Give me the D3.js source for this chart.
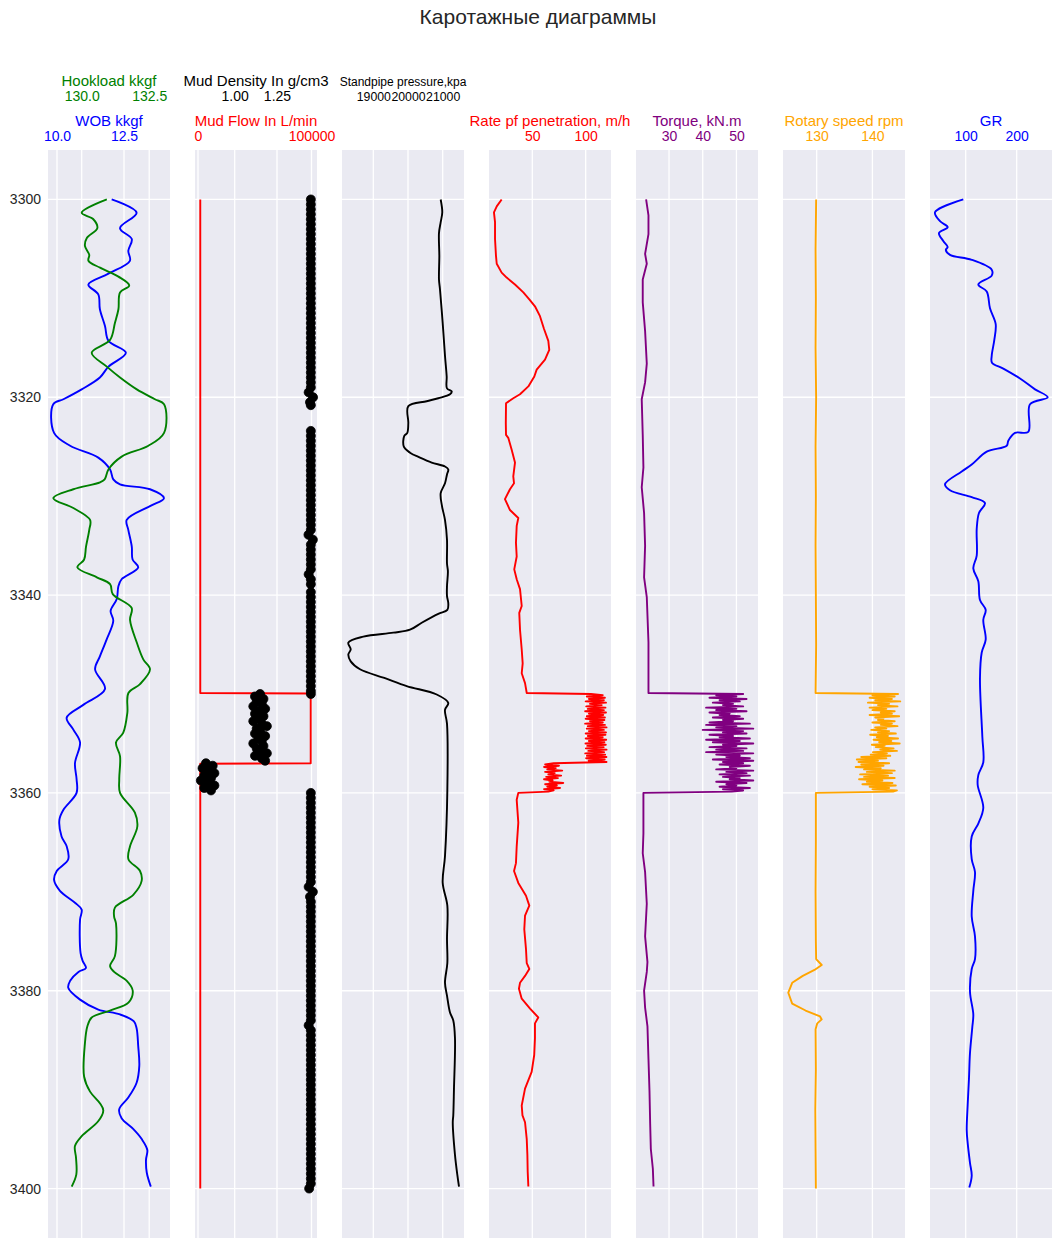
<!DOCTYPE html>
<html><head><meta charset="utf-8">
<script src="https://cdn.jsdelivr.net/npm/d3@7"></script>
<style>
body{margin:0;background:#fff}
svg{display:block}
text{font-family:"Liberation Sans",Arial,Helvetica,sans-serif}
</style>
</head><body>
<svg id="chart" width="1059" height="1245"></svg>
<script>
// ---------------- DATA ----------------
const depthTicks = [3300, 3320, 3340, 3360, 3380, 3400];
const wobTicks = [10.0, 12.5];
const hookloadTicks = [130.0, 132.5];
const mudFlowTicks = [0, 100000];
const mudDensityTicks = [1.00, 1.25];
const standpipeTicks = [19000, 20000, 21000];
const ropTicks = [50, 100];
const torqueTicks = [30, 40, 50];
const rotaryTicks = [130, 140];
const grTicks = [100, 200];

// [depth, value]
const wob = [[3300,12.04],[3301.35,12.97],[3302.9,12.35],[3304.0,12.79],[3305.2,12.66],[3306.2,12.72],[3307.5,11.92],[3308.6,11.17],[3309.6,11.54],[3311.1,11.6],[3312.8,11.79],[3314.3,11.92],[3315.5,12.57],[3316.9,11.92],[3318.0,11.6],[3319.2,10.92],[3320.2,10.24],[3320.7,9.86],[3323.6,9.89],[3324.9,10.49],[3326.1,11.54],[3327.3,11.98],[3328.3,12.1],[3328.8,12.35],[3329.3,13.47],[3330.2,13.99],[3331.0,13.47],[3332.4,12.6],[3333.4,12.66],[3335.1,12.79],[3336.4,12.82],[3337.2,13.03],[3338.4,12.41],[3339.1,12.29],[3340.4,12.23],[3341.6,12.0],[3342.6,12.1],[3344.5,11.85],[3346.2,11.6],[3347.5,11.42],[3349.5,11.79],[3351.1,10.98],[3352.4,10.36],[3353.6,10.61],[3354.9,10.86],[3357.0,10.67],[3358.6,10.73],[3360.0,10.73],[3361.7,10.24],[3362.7,10.09],[3364.4,10.17],[3365.4,10.36],[3366.7,10.42],[3367.9,9.99],[3368.8,9.89],[3369.9,10.11],[3371.1,10.67],[3371.8,10.92],[3372.8,10.86],[3376.2,10.88],[3377.0,10.96],[3377.7,11.08],[3378.1,10.8],[3379.0,10.49],[3379.7,10.42],[3380.9,10.86],[3381.9,11.54],[3382.4,12.35],[3383.1,12.87],[3383.8,12.97],[3385.6,13.03],[3387.6,13.07],[3389.3,12.97],[3390.8,12.66],[3392.0,12.32],[3392.9,12.41],[3394.0,12.85],[3395.0,13.16],[3396.1,13.37],[3397.1,13.32],[3398.4,13.35],[3399.8,13.5]];

const hookload = [[3300,130.93],[3301.35,130.0],[3302,130.43],[3302.9,130.58],[3303.9,130.19],[3304.7,130.12],[3305.6,130.28],[3306.2,130.25],[3306.9,130.68],[3307.8,131.36],[3308.7,131.76],[3309.4,131.42],[3311.1,131.36],[3312.5,131.23],[3314.2,131.05],[3315.5,130.37],[3316.9,130.93],[3318.0,131.42],[3319.2,132.04],[3320.2,132.71],[3320.7,133.05],[3323.6,133.05],[3324.9,132.47],[3326.0,131.48],[3327.3,130.99],[3328.3,130.85],[3328.6,130.68],[3329.3,129.69],[3330.2,128.95],[3331.2,129.69],[3332.4,130.31],[3333.4,130.28],[3335.1,130.16],[3336.4,130.09],[3337.2,129.84],[3338.2,130.56],[3338.9,131.05],[3339.9,131.15],[3341.3,131.85],[3342.5,131.79],[3344.8,132.04],[3346.5,132.28],[3347.5,132.53],[3349.0,132.16],[3349.9,131.73],[3351.9,131.69],[3353.9,131.54],[3354.9,131.27],[3356.3,131.42],[3358.6,131.39],[3360.0,131.42],[3362.0,131.97],[3363.4,132.06],[3365.4,131.79],[3366.7,131.73],[3367.9,132.16],[3368.9,132.22],[3370.3,131.91],[3371.6,131.23],[3372.5,131.2],[3373.2,131.27],[3376.5,131.23],[3377.5,131.05],[3378.1,131.2],[3379.0,131.67],[3380.0,131.89],[3381.2,131.73],[3382.0,131.05],[3382.7,130.37],[3383.6,130.21],[3385.3,130.12],[3388.7,130.09],[3390.2,130.31],[3391.4,130.68],[3392.1,130.8],[3393.2,130.61],[3394.7,130.0],[3395.7,129.75],[3396.9,129.79],[3398.6,129.8],[3399.8,129.63]];

const mudFlow = [[3300,2000],[3349.9,2000],[3349.95,99300],[3357.0,99300],[3357.05,2000],[3400,2000]];

const mudDensity = [
[3300,1.45],[3300.5,1.45],[3301,1.45],[3301.5,1.45],[3302,1.45],[3302.5,1.45],[3303,1.45],[3303.5,1.45],[3304,1.45],[3304.5,1.45],[3305,1.45],[3305.5,1.45],[3306,1.45],[3306.5,1.45],[3307,1.45],[3307.5,1.45],[3308,1.45],[3308.5,1.45],[3309,1.45],[3309.5,1.45],[3310,1.45],[3310.5,1.45],[3311,1.45],[3311.5,1.45],[3312,1.45],[3312.5,1.45],[3313,1.45],[3313.5,1.45],[3314,1.45],[3314.5,1.45],[3315,1.45],[3315.5,1.45],[3316,1.45],[3316.5,1.45],[3317,1.45],[3317.5,1.45],[3318,1.45],[3318.5,1.45],[3319,1.45],[3319.5,1.437],[3320,1.463],[3320.5,1.445],[3320.8,1.45],
[3323.4,1.45],[3323.9,1.45],[3324.4,1.45],[3324.9,1.45],[3325.4,1.45],[3325.9,1.45],[3326.4,1.45],[3326.9,1.45],[3327.4,1.45],[3327.9,1.45],[3328.4,1.45],[3328.9,1.45],[3329.4,1.45],[3329.9,1.45],[3330.4,1.45],[3330.9,1.45],[3331.4,1.45],[3331.9,1.45],[3332.4,1.45],[3332.9,1.45],[3333.4,1.45],[3333.9,1.436],[3334.4,1.462],[3334.9,1.45],[3335.4,1.45],[3335.9,1.45],[3336.4,1.45],[3336.9,1.45],[3337.4,1.45],[3337.9,1.437],[3338.4,1.45],[3338.9,1.45],
[3339.7,1.45],[3340.2,1.45],[3340.7,1.45],[3341.2,1.45],[3341.7,1.45],[3342.2,1.45],[3342.7,1.45],[3343.2,1.45],[3343.7,1.45],[3344.2,1.45],[3344.7,1.45],[3345.2,1.45],[3345.7,1.45],[3346.2,1.45],[3346.7,1.45],[3347.2,1.45],[3347.7,1.45],[3348.2,1.45],[3348.7,1.45],[3349.2,1.45],[3349.7,1.45],[3350.0,1.45],
[3350.0,1.15],[3350.25,1.12],[3350.5,1.17],[3350.75,1.13],[3351.0,1.16],[3351.25,1.11],[3351.5,1.18],[3351.75,1.14],[3352.0,1.12],[3352.25,1.17],[3352.5,1.15],[3352.75,1.11],[3353.0,1.16],[3353.25,1.19],[3353.5,1.13],[3353.75,1.15],[3354.0,1.12],[3354.25,1.18],[3354.5,1.14],[3354.75,1.16],[3355.0,1.11],[3355.25,1.17],[3355.5,1.13],[3355.75,1.15],[3356.0,1.19],[3356.25,1.12],[3356.5,1.16],[3356.75,1.18],
[3357.0,0.83],[3357.25,0.87],[3357.5,0.81],[3357.75,0.85],[3358.0,0.88],[3358.25,0.82],[3358.5,0.86],[3358.75,0.80],[3359.0,0.84],[3359.25,0.88],[3359.5,0.82],[3359.75,0.86],
[3360,1.45],[3360.5,1.45],[3361,1.45],[3361.5,1.45],[3362,1.45],[3362.5,1.45],[3363,1.45],[3363.5,1.45],[3364,1.45],[3364.5,1.45],[3365,1.45],[3365.5,1.45],[3366,1.45],[3366.5,1.45],[3367,1.45],[3367.5,1.45],[3368,1.45],[3368.5,1.45],[3369,1.45],[3369.5,1.437],[3370,1.462],[3370.5,1.445],[3371,1.45],[3371.5,1.45],[3372,1.45],[3372.5,1.45],[3373,1.45],[3373.5,1.45],[3374,1.45],[3374.5,1.45],[3375,1.45],[3375.5,1.45],[3376,1.45],[3376.5,1.45],[3377,1.45],[3377.5,1.45],[3378,1.45],[3378.5,1.45],[3379,1.45],[3379.5,1.45],[3380,1.45],[3380.5,1.45],[3381,1.45],[3381.5,1.45],[3382,1.45],[3382.5,1.45],[3383,1.45],[3383.5,1.437],[3384,1.45],[3384.5,1.45],[3385,1.45],[3385.5,1.45],[3386,1.45],[3386.5,1.45],[3387,1.45],[3387.5,1.45],[3388,1.45],[3388.5,1.45],[3389,1.45],[3389.5,1.45],[3390,1.45],[3390.5,1.45],[3391,1.45],[3391.5,1.45],[3392,1.45],[3392.5,1.45],[3393,1.45],[3393.5,1.45],[3394,1.45],[3394.5,1.45],[3395,1.45],[3395.5,1.45],[3396,1.45],[3396.5,1.45],[3397,1.45],[3397.5,1.45],[3398,1.45],[3398.5,1.45],[3399,1.45],[3399.5,1.45],[3400,1.44]];

const standpipe = [[3300,20942],[3301.3,20988],[3302.3,20942],[3303.4,20893],[3305.7,20903],[3308.1,20893],[3309.1,20922],[3312.5,21000],[3315.8,21066],[3317.9,21115],[3319.1,21124],[3319.4,21259],[3319.7,21210],[3320.1,20873],[3320.4,20539],[3320.9,20009],[3322.6,20009],[3323.6,19980],[3323.9,19893],[3325.0,19880],[3325.6,20058],[3326.1,20346],[3326.6,20683],[3327.0,21066],[3327.3,21161],[3327.8,21124],[3328.7,21066],[3329.7,20942],[3331.0,20980],[3332.4,21066],[3334.4,21124],[3336.8,21124],[3337.6,21150],[3339.1,21124],[3340.1,21124],[3340.8,21161],[3341.5,21134],[3341.9,20873],[3342.8,20395],[3343.5,20058],[3343.8,19576],[3344.2,18712],[3344.8,18280],[3345.5,18349],[3346.0,18280],[3346.7,18349],[3347.5,18617],[3348.4,19337],[3349.2,19962],[3350.05,20827],[3350.9,21161],[3351.6,21066],[3353.0,21124],[3359.7,21134],[3366.4,21066],[3369.1,21000],[3371.4,21134],[3374.8,21124],[3377.2,21134],[3379.2,21066],[3380.5,21124],[3382.2,21210],[3383.0,21305],[3384.8,21354],[3389.9,21325],[3392.6,21305],[3393.3,21290],[3396.6,21354],[3398.6,21421],[3399.8,21470]];

// depths of the drilling interval (fine sampling)
const drillDepth = [3350,3350.125,3350.25,3350.375,3350.5,3350.625,3350.75,3350.875,3351,3351.125,3351.25,3351.375,3351.5,3351.625,3351.75,3351.875,3352,3352.125,3352.25,3352.375,3352.5,3352.625,3352.75,3352.875,3353,3353.125,3353.25,3353.375,3353.5,3353.625,3353.75,3353.875,3354,3354.125,3354.25,3354.375,3354.5,3354.625,3354.75,3354.875,3355,3355.125,3355.25,3355.375,3355.5,3355.625,3355.75,3355.875,3356,3356.125,3356.25,3356.375,3356.5,3356.625,3356.75,3356.875,3357,3357.125,3357.25,3357.375,3357.5,3357.625,3357.75,3357.875,3358,3358.125,3358.25,3358.375,3358.5,3358.625,3358.75,3358.875,3359,3359.125,3359.25,3359.375,3359.5,3359.625,3359.75,3359.875];

const ropBefore = [[3300,21.3],[3300.7,16.7],[3301.3,14.1],[3302.3,15.1],[3304.0,15.1],[3305.7,16.0],[3306.5,16.7],[3307.4,21.3],[3307.9,26.0],[3308.6,33.8],[3309.4,41.6],[3310.1,47.2],[3310.8,52.5],[3311.8,57.2],[3313.1,61.0],[3314.3,65.0],[3315.2,65.9],[3316.2,61.9],[3317.2,54.1],[3317.9,51.9],[3318.9,46.3],[3319.7,38.5],[3320.1,32.2],[3320.6,25.4],[3322.6,25.2],[3323.8,25.4],[3324.1,27.5],[3325.3,30.7],[3326.6,33.8],[3328.0,32.2],[3328.7,32.9],[3329.3,29.1],[3330.3,24.4],[3331.4,29.1],[3332.2,36.9],[3333.0,35.4],[3334.7,34.7],[3336.1,35.4],[3337.4,33.1],[3338.4,35.4],[3339.4,38.5],[3341.1,40.1],[3341.8,37.8],[3343.5,38.5],[3345.5,40.1],[3346.9,41.0],[3347.9,40.1],[3348.9,43.2],[3349.9,44.8]];
const ropDrill = [105,116,101,118,103,117,100,119,104,115,100.5,118.5,102,117,99.5,119,103,116.5,101,118,100,117.5,104,116,99.5,118,102,119.5,101,117,103,119,100,118.5,102,116,100,119.2,103,117.5,99.8,118.8,101.5,116.8,100.2,119.5,102.5,117.2,99.6,118.2,101.2,119.4,100.4,117.8,102.8,119.5,
  70,62,75,61,72,64,78,62,71,65,77,63,74,61,69,66,79,62,73,64,76,61,70,65];
const ropAfter = [[3360.0,36.9],[3360.7,35.4],[3363.0,36.9],[3365.4,35.4],[3367.1,34.7],[3367.9,32.9],[3369.1,36.9],[3370.4,44.1],[3371.4,47.2],[3372.4,43.2],[3373.8,42.5],[3375.8,44.1],[3377.2,44.8],[3377.8,47.2],[3378.5,43.2],[3379.2,38.5],[3379.8,37.5],[3380.8,40.1],[3381.8,47.9],[3382.7,55.6],[3383.3,52.5],[3384.8,52.5],[3386.5,51.8],[3388.2,49.4],[3389.9,43.2],[3391.6,40.1],[3392.6,40.8],[3393.3,43.2],[3395.0,44.8],[3396.6,45.4],[3398.3,45.7],[3399.8,46.3]];

const torqueBefore = [[3300,23.2],[3301.6,23.9],[3303.5,23.9],[3305.5,22.9],[3306.5,23.4],[3308.1,22.2],[3310.4,22.2],[3313.3,22.9],[3316.6,23.4],[3318.5,22.9],[3320.2,21.9],[3323.8,22.2],[3327.1,22.4],[3329.1,21.9],[3331.7,22.6],[3335.0,22.9],[3338.2,22.6],[3340.2,23.4],[3344.8,23.9],[3349.9,23.9]];
const torqueDrill = [52,44,50,42,53,45,51,43,49,46,52,41,50,44,53,42,48,45,51,43,52,46,49,42,
  54,41,50,44,55,40,52,46,53,42,49,45,54,41,51,43,55,46,50,42,53,44,52,41,
  55,44,51,47,54,43,55,46,52,45,54,48,50,44,55,47,53,45,54,46,51,48,55,44,53,47,50,45,54,46,52,48.6];
const torqueAfter = [[3360.0,22.4],[3364.1,22.4],[3366.1,22.2],[3368.0,22.9],[3371.2,23.4],[3374.5,22.9],[3377.1,23.6],[3378.1,23.4],[3380.0,22.6],[3381.7,22.9],[3383.6,23.6],[3386.9,23.9],[3390.1,24.2],[3393.4,24.4],[3396.0,24.6],[3398.0,25.2],[3399.8,25.4]];

const rotaryBefore = [[3300,129.9],[3305,129.8],[3310,129.85],[3315,129.8],[3320,129.9],[3325,129.8],[3330,129.85],[3335,129.8],[3340,129.85],[3345,129.9],[3349.9,129.8]];
const rotaryDrill = [144.6,140,144,139.5,143.5,140.5,145,139.2,143,141,144.5,139.5,142.5,140,144,141.5,143.5,139.5,144.8,140.5,142,141,144,140,143.5,141.5,144.5,140.5,142.5,139.8,143,141,144.2,139.6,142.8,140.8,144.6,140.2,143.4,141.2,144.9,139.9,142.2,140.6,143.8,141.4,144.4,140.1,142.6,139.7,143.2,
  138,142.5,137.2,141,137.5,143,138,142,137,141.5,138.5,144,139,143.5,137.8,142.8,138.5,144,137.6,141.8,139,143.6,138.2,144.2,139.5,143,140,144.4,143.7];
const rotaryAfter = [[3360.0,129.85],[3365,129.85],[3370,129.8],[3375,129.85],[3376.8,129.9],[3377.4,130.9],[3377.9,129.6],[3378.5,127.5],[3379.2,125.6],[3380.2,124.9],[3381.3,125.6],[3382.0,128.0],[3382.6,130.6],[3382.9,130.9],[3383.3,130.1],[3383.9,129.8],[3388,129.85],[3392,129.75],[3396,129.8],[3400,129.85]];

const gr = [[3300,95.3],[3301.3,39.8],[3302.2,49.6],[3302.8,64.7],[3303.4,47.6],[3304.2,56],[3304.8,64.7],[3305.1,61],[3305.6,69.2],[3306.1,111.8],[3307.1,151],[3307.7,151],[3308.6,124.7],[3309.3,141.2],[3311.0,147.6],[3312.6,158.8],[3314.2,156.1],[3315.8,151],[3316.5,151.5],[3317.1,173.7],[3318.1,206.5],[3319.2,235.9],[3320.0,260.8],[3320.7,226.1],[3323.5,222.7],[3323.6,196.7],[3324.4,183.5],[3324.9,180.4],[3325.5,141.2],[3326.8,111.8],[3327.5,92.2],[3328.8,59.4],[3329.4,69.2],[3330.1,111.8],[3330.7,137.8],[3331.7,126],[3333.3,121.6],[3336.0,121.6],[3337.3,114.9],[3338.6,124.7],[3340.5,128],[3341.5,139.2],[3342.5,134.5],[3344.5,139.2],[3345.8,131.4],[3348.4,128],[3354.3,132.6],[3356.9,134.5],[3358.2,124.7],[3359.2,123.5],[3361.5,134.5],[3363.1,124.7],[3364.4,111.8],[3366.7,111.8],[3368.0,118.2],[3369.9,114.9],[3372.5,111.8],[3374.5,118.2],[3376.8,118.2],[3377.8,111.8],[3380.1,108.4],[3382.4,114.9],[3383.7,112.9],[3386.3,108.4],[3388.9,106.4],[3391.5,103.9],[3394.1,102],[3395.4,103.9],[3397.4,108.4],[3398.7,111.8],[3399.9,107]];

// ---------------- LAYOUT ----------------
const svg = d3.select('#chart');
const panelLefts = [48, 195, 342, 489, 636, 783, 930];
const panelW = 122, plotTop = 150, plotBottom = 1238;
const y = d3.scaleLinear().domain([3295, 3405]).range([plotTop, plotBottom]);

const joinDrill = (before, vals, after) => before.concat(drillDepth.map((d,i)=>[d, vals[i]]), after);
const rop = joinDrill(ropBefore, ropDrill, ropAfter);
const torque = joinDrill(torqueBefore, torqueDrill, torqueAfter);
const rotary = joinDrill(rotaryBefore, rotaryDrill, rotaryAfter);

const xr = i => [panelLefts[i], panelLefts[i] + panelW];
const xWob = d3.scaleLinear().domain([9.664, 14.216]).range(xr(0));
const xHook = d3.scaleLinear().domain([128.752, 133.27]).range(xr(0));
const xFlow = d3.scaleLinear().domain([-2643, 104846]).range(xr(1));
const xDens = d3.scaleLinear().domain([0.7654, 1.4864]).range(xr(1));
const xSpp = d3.scaleLinear().domain([18098, 21614]).range(xr(2));
const xRop = d3.scaleLinear().domain([9.46, 123.7]).range(xr(3));
const xTq = d3.scaleLinear().domain([20.2, 56.4]).range(xr(4));
const xRot = d3.scaleLinear().domain([123.95, 145.85]).range(xr(5));
const xGr = d3.scaleLinear().domain([30, 269.2]).range(xr(6));

const LOW = {label: 126, ticks: 141}, HIGH = {label: 86, ticks: 101};

const tracks = [
  {axes: [{s: xWob, t: wobTicks, f: '.1f', name: 'WOB kkgf', c: 'blue', row: LOW},
          {s: xHook, t: hookloadTicks, f: '.1f', name: 'Hookload kkgf', c: 'green', row: HIGH}]},
  {axes: [{s: xFlow, t: mudFlowTicks, f: 'd', name: 'Mud Flow In L/min', c: 'red', row: LOW},
          {s: xDens, t: mudDensityTicks, f: '.2f', name: 'Mud Density In g/cm3', c: 'black', row: HIGH}]},
  {axes: [{s: xSpp, t: standpipeTicks, f: 'd', name: 'Standpipe pressure,kpa', c: 'black', row: HIGH, small: true}]},
  {axes: [{s: xRop, t: ropTicks, f: 'd', name: 'Rate pf penetration, m/h', c: 'red', row: LOW}]},
  {axes: [{s: xTq, t: torqueTicks, f: 'd', name: 'Torque, kN.m', c: 'purple', row: LOW}]},
  {axes: [{s: xRot, t: rotaryTicks, f: 'd', name: 'Rotary speed rpm', c: 'orange', row: LOW}]},
  {axes: [{s: xGr, t: grTicks, f: 'd', name: 'GR', c: 'blue', row: LOW}]}
];

// title
svg.append('text').attr('x', 538).attr('y', 24).attr('text-anchor', 'middle')
  .attr('fill', '#262626').style('font-size', '21px').text('Каротажные диаграммы');

tracks.forEach((tr, i) => {
  const L = panelLefts[i];
  const g = svg.append('g');
  g.append('rect').attr('x', L).attr('y', plotTop).attr('width', panelW).attr('height', plotBottom - plotTop).attr('fill', '#EAEAF2');
  g.append('g').selectAll('line').data(depthTicks).join('line')
    .attr('x1', L).attr('x2', L + panelW).attr('y1', d => y(d)).attr('y2', d => y(d))
    .attr('stroke', '#fff').attr('stroke-width', 1.3);
  tr.axes.forEach(a => {
    g.append('g').selectAll('line').data(a.t).join('line')
      .attr('x1', d => a.s(d)).attr('x2', d => a.s(d)).attr('y1', plotTop).attr('y2', plotBottom)
      .attr('stroke', '#fff').attr('stroke-width', 1.3);
    const ax = d3.axisTop(a.s).tickValues(a.t).tickFormat(d3.format(a.f)).tickSize(0).tickPadding(0);
    const ag = svg.append('g').attr('transform', `translate(0,${a.row.ticks})`).call(ax);
    ag.select('.domain').remove();
    ag.attr('font-size', a.small ? 12.3 : 14).attr('font-family', '"Liberation Sans",Arial,sans-serif');
    ag.selectAll('text').attr('fill', a.c);
    svg.append('text').attr('x', L + panelW / 2).attr('y', a.row.label)
      .attr('text-anchor', 'middle').attr('fill', a.c)
      .style('font-size', a.small ? '12px' : '15px').text(a.name);
  });
});

// depth axis
const yAx = svg.append('g').attr('transform', `translate(${panelLefts[0]},0)`)
  .call(d3.axisLeft(y).tickValues(depthTicks).tickFormat(d3.format('d')).tickSize(0).tickPadding(7));
yAx.select('.domain').remove();
yAx.attr('font-size', 14).attr('font-family', '"Liberation Sans",Arial,sans-serif');
yAx.selectAll('text').attr('fill', '#262626');

// series
const plotLine = (data, xs, color, smooth) => {
  const line = d3.line().x(d => xs(d[1])).y(d => y(d[0]))
    .curve(smooth ? d3.curveCatmullRom.alpha(0.5) : d3.curveLinear);
  svg.append('path').datum(data).attr('d', line).attr('fill', 'none')
    .attr('stroke', color).attr('stroke-width', 1.9).attr('stroke-linejoin', 'round');
};

plotLine(wob, xWob, 'blue', true);
plotLine(hookload, xHook, 'green', true);
plotLine(mudFlow, xFlow, 'red', false);
svg.append('g').selectAll('circle').data(mudDensity).join('circle')
  .attr('cx', d => xDens(d[1])).attr('cy', d => y(d[0])).attr('r', 4.5)
  .attr('fill', 'black').attr('stroke', 'black').attr('stroke-width', 0.8);
plotLine(standpipe, xSpp, 'black', true);
plotLine(rop, xRop, 'red', false);
plotLine(torque, xTq, 'purple', false);
plotLine(rotary, xRot, 'orange', false);
plotLine(gr, xGr, 'blue', true);
</script>
</body></html>
